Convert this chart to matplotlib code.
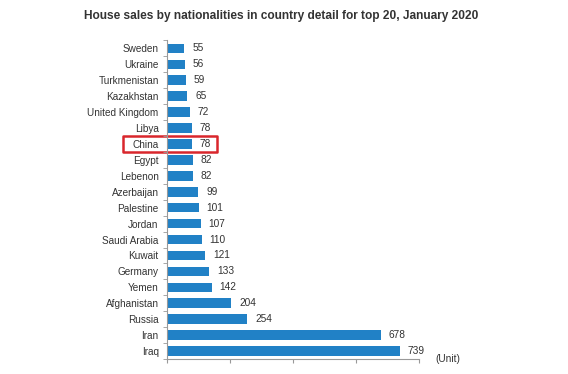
import matplotlib
matplotlib.use('Agg')

import matplotlib.pyplot as plt
from matplotlib.patches import Rectangle

plt.rcParams['font.family'] = ['Liberation Sans', 'DejaVu Sans']

countries = ['Sweden', 'Ukraine', 'Turkmenistan', 'Kazakhstan', 'United Kingdom',
             'Libya', 'China', 'Egypt', 'Lebenon', 'Azerbaijan', 'Palestine',
             'Jordan', 'Saudi Arabia', 'Kuwait', 'Germany', 'Yemen',
             'Afghanistan', 'Russia', 'Iran', 'Iraq']
sales = [55, 56, 59, 65, 72, 78, 78, 82, 82, 99, 101, 107, 110, 121, 133,
         142, 204, 254, 678, 739]
highlight = 'China'

BAR_COLOR = '#2181c6'
TEXT_COLOR = '#333333'

fig = plt.figure(figsize=(5.68, 3.74), dpi=100)
ax = fig.add_axes([0.294, 0.040, 0.444, 0.852])

ypos = list(range(len(countries)))
ax.barh(ypos, sales, height=0.6, color=BAR_COLOR)

for y, v in zip(ypos, sales):
    ax.text(v + 25, y, str(v), va='center', ha='left', fontsize=7.3, color=TEXT_COLOR)

ax.set_ylim(len(countries) - 0.5, -0.5)
ax.set_xlim(0, 800)

# category labels without ticks, tick marks at the boundaries
ax.set_yticks(ypos)
ax.set_yticklabels(countries, fontsize=7.2, color=TEXT_COLOR)
ax.tick_params(axis='y', length=0, pad=6)
ax.set_yticks([i - 0.5 for i in range(len(countries) + 1)], minor=True)
ax.tick_params(axis='y', which='minor', length=3, color='#999999', direction='out')

ax.set_xticks([0, 200, 400, 600, 800])
ax.set_xticklabels([])
ax.tick_params(axis='x', length=3, color='#999999', direction='out')

for side in ['top', 'right']:
    ax.spines[side].set_visible(False)
ax.spines['left'].set_color('#999999')
ax.spines['bottom'].set_color('#999999')

fig.text(0.495, 0.958, 'House sales by nationalities in country detail for top 20, January 2020',
         ha='center', va='center', fontsize=8.6, fontweight='bold', color=TEXT_COLOR)

fig.text(0.766, 0.04, '(Unit)', ha='left', va='center', fontsize=7.3, color=TEXT_COLOR)

# red box around the highlighted row
i = countries.index(highlight)
box = Rectangle((-140, i - 0.53), 298, 1.06, transform=ax.transData,
                fill=False, edgecolor='#d9262c', linewidth=1.8,
                clip_on=False, joinstyle='round')
ax.add_patch(box)

plt.savefig('out.png', dpi=100)
